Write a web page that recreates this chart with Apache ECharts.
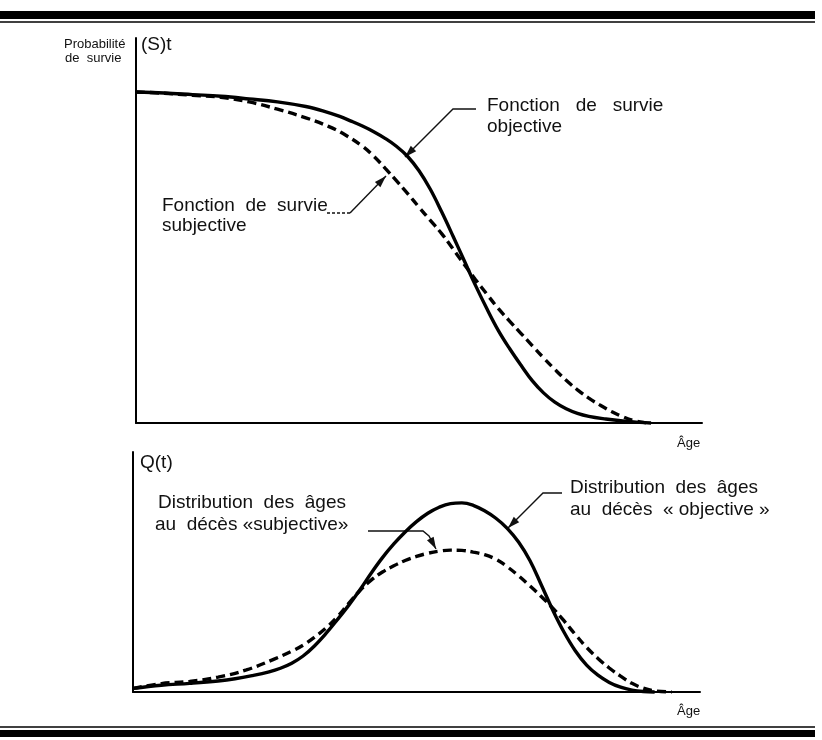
<!DOCTYPE html>
<html>
<head>
<meta charset="utf-8">
<title>Fonction de survie</title>
<script src="https://cdn.jsdelivr.net/npm/echarts@6/dist/echarts.min.js"></script>
<style>
  body{margin:0;background:#fff;}
  #main{width:822px;height:740px;}
</style>
</head>
<body>
<div id="main"></div>
<script>
// fonction de survie objective (trait plein)
var ageSurvObj = [0, 5, 10, 15, 20, 25, 30, 33, 36, 38, 40, 42, 44, 46, 48, 50, 52, 54, 56, 58, 60, 62, 64, 66, 68, 70, 72, 74, 76, 78, 80, 83, 86, 89, 91];
var survObj    = [1.000, 0.997, 0.992, 0.987, 0.979, 0.970, 0.956, 0.943, 0.926, 0.912, 0.897, 0.880, 0.860, 0.836, 0.805, 0.762, 0.706, 0.638, 0.565, 0.490, 0.415, 0.345, 0.280, 0.225, 0.175, 0.128, 0.091, 0.063, 0.043, 0.029, 0.020, 0.012, 0.006, 0.002, 0];
// fonction de survie subjective (pointillés)
var ageSurvSub = [0, 5, 10, 15, 20, 25, 30, 34, 37, 40, 42, 44, 46, 48, 50, 52, 54, 56, 58, 60, 62, 64, 66, 68, 70, 72, 74, 76, 78, 80, 82, 84, 86, 88, 90, 91];
var survSub    = [1.000, 0.996, 0.990, 0.984, 0.970, 0.948, 0.922, 0.896, 0.870, 0.836, 0.806, 0.770, 0.732, 0.693, 0.652, 0.612, 0.572, 0.526, 0.479, 0.433, 0.389, 0.346, 0.308, 0.271, 0.234, 0.197, 0.162, 0.129, 0.100, 0.075, 0.054, 0.035, 0.019, 0.007, 0.001, 0];
// distribution des âges au décès objective
var ageDecObj = [0, 5, 10, 15, 18, 21, 24, 26, 28, 30, 32, 34, 36, 38, 40, 42, 44, 46, 48, 50, 52, 54, 56, 58, 60, 62, 64, 66, 68, 70, 72, 74, 76, 78, 80, 82, 84, 86, 88, 90, 92];
var decObj    = [0.015, 0.028, 0.036, 0.046, 0.055, 0.068, 0.084, 0.099, 0.120, 0.150, 0.192, 0.243, 0.300, 0.360, 0.425, 0.495, 0.560, 0.617, 0.667, 0.710, 0.745, 0.770, 0.785, 0.788, 0.778, 0.755, 0.724, 0.682, 0.625, 0.548, 0.447, 0.343, 0.250, 0.172, 0.112, 0.070, 0.040, 0.020, 0.008, 0.002, 0];
// distribution des âges au décès subjective
var ageDecSub = [0, 5, 10, 15, 20, 25, 28, 30, 32, 34, 36, 38, 40, 42, 44, 46, 48, 50, 52, 54, 56, 58, 60, 62, 64, 66, 68, 70, 72, 74, 76, 78, 80, 82, 84, 86, 88, 90, 92, 95];
var decSub    = [0.015, 0.035, 0.044, 0.062, 0.092, 0.138, 0.170, 0.195, 0.228, 0.266, 0.312, 0.368, 0.422, 0.466, 0.500, 0.526, 0.548, 0.565, 0.578, 0.587, 0.591, 0.590, 0.583, 0.572, 0.553, 0.522, 0.484, 0.442, 0.398, 0.350, 0.297, 0.240, 0.186, 0.140, 0.100, 0.066, 0.036, 0.016, 0.005, 0];

function paires(a, v){
  var r = [];
  for (var i = 0; i < a.length; i++) r.push([a[i], v[i]]);
  return r;
}

var police = 'Liberation Sans, Arial, Helvetica, sans-serif';

function texte(t, x, y, taille){
  return {type:'text', style:{text:t, x:x, y:y, fontSize:taille, fontFamily:police, fill:'#111', align:'left', verticalAlign:'middle'}};
}

// trait de renvoi + pointe de flèche
function fleche(pts, pointille){
  var n = pts.length;
  var tip = pts[n-1], prev = pts[n-2];
  var ang = Math.atan2(tip[1]-prev[1], tip[0]-prev[0]);
  var L = 12, W = 3.8;
  var bx = tip[0] - L*Math.cos(ang), by = tip[1] - L*Math.sin(ang);
  var px = -Math.sin(ang)*W, py = Math.cos(ang)*W;
  return [
    {type:'polyline', shape:{points:pts}, style:{stroke:'#111', lineWidth:1.4, fill:null, lineDash: pointille ? [3,2] : null}},
    {type:'polygon', shape:{points:[tip, [bx+px, by+py], [bx-px, by-py]]}, style:{fill:'#111'}}
  ];
}

function axeX(g){
  return {type:'value', gridIndex:g, min:0, max:100,
    axisLine:{show:true, onZero:false, lineStyle:{color:'#000', width:2}},
    axisTick:{show:false}, axisLabel:{show:false}, splitLine:{show:false}};
}
function axeY(g, max){
  return {type:'value', gridIndex:g, min:0, max:max,
    axisLine:{show:true, onZero:false, lineStyle:{color:'#000', width:2}},
    axisTick:{show:false}, axisLabel:{show:false}, splitLine:{show:false}};
}
function courbe(g, data, pointille){
  return {type:'line', xAxisIndex:g, yAxisIndex:g, data:data,
    symbol:'none', smooth:0.4, clip:false, silent:true,
    lineStyle:{color:'#000', width:3.4, type: pointille ? [9,5] : 'solid', cap:'butt'}};
}

var graphiques = [
  // filets de la page
  {type:'rect', shape:{x:0, y:11, width:815, height:8}, style:{fill:'#000'}},
  {type:'line', shape:{x1:0, y1:22, x2:815, y2:22}, style:{stroke:'#000', lineWidth:1.5}},
  {type:'line', shape:{x1:0, y1:727, x2:815, y2:727}, style:{stroke:'#000', lineWidth:1.5}},
  {type:'rect', shape:{x:0, y:730, width:815, height:7}, style:{fill:'#000'}},

  texte('Probabilité', 64, 44, 13),
  texte('de  survie', 65, 58, 13),
  texte('(S)t', 141, 45, 19),
  texte('Âge', 677, 443, 13),
  texte('Q(t)', 140, 463, 19),
  texte('Âge', 677, 711, 13),

  texte('Fonction   de   survie', 487, 106, 19),
  texte('objective', 487, 127, 19),
  texte('Fonction  de  survie', 162, 206, 19),
  texte('subjective', 162, 226, 19),
  texte('Distribution  des  âges', 570, 488, 19),
  texte('au  décès  « objective »', 570, 510, 19),
  texte('Distribution  des  âges', 158, 503, 19),
  texte('au  décès «subjective»', 155, 525, 19)
];
graphiques = graphiques
  .concat(fleche([[476,109],[453,109],[405,157]]))
  .concat(fleche([[327,213],[350,213]], true).slice(0,1))
  .concat(fleche([[350,213],[386,176]]))
  .concat(fleche([[562,493],[543,493],[508,528]]))
  .concat(fleche([[368,531],[423,531],[429,536],[436,549]]));

var myChart = echarts.init(document.getElementById('main'));
myChart.setOption({
  backgroundColor:'#fff',
  animation:false,
  grid:[
    {left:136, top:38, width:566, height:385},
    {left:133, top:452, width:567, height:240}
  ],
  xAxis:[axeX(0), axeX(1)],
  yAxis:[axeY(0, 1.163), axeY(1, 1)],
  series:[
    courbe(0, paires(ageSurvObj, survObj), false),
    courbe(0, paires(ageSurvSub, survSub), true),
    courbe(1, paires(ageDecObj, decObj), false),
    courbe(1, paires(ageDecSub, decSub), true)
  ],
  graphic:graphiques
});
</script>
</body>
</html>
